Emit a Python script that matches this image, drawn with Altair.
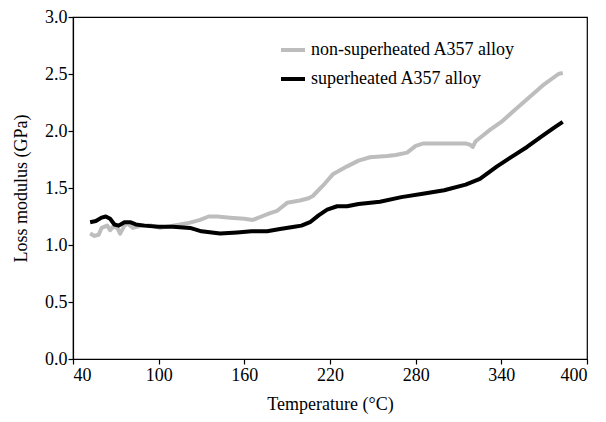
import altair as alt
import pandas as pd

series_names = ["non-superheated A357 alloy", "superheated A357 alloy"]
series_colors = ["#bdbdbd", "#000000"]

temp_non = [52, 55, 58, 60, 64, 66, 68, 71, 73, 76, 78, 82, 88, 95, 101, 110, 120, 129, 135,
            141, 150, 160, 166, 172, 178, 183, 190, 199, 205, 208, 215, 222, 232, 240, 248,
            260, 266, 274, 280, 285, 295, 305, 315, 318, 320, 322, 326, 332, 340, 350, 360,
            370, 380, 383]
val_non = [1.10, 1.08, 1.09, 1.15, 1.17, 1.13, 1.16, 1.15, 1.10, 1.17, 1.19, 1.15, 1.17, 1.17,
           1.15, 1.17, 1.19, 1.22, 1.25, 1.25, 1.24, 1.23, 1.22, 1.25, 1.28, 1.30, 1.37, 1.39,
           1.41, 1.43, 1.52, 1.62, 1.69, 1.74, 1.77, 1.78, 1.79, 1.81, 1.87, 1.89, 1.89, 1.89,
           1.89, 1.88, 1.86, 1.91, 1.95, 2.01, 2.08, 2.19, 2.30, 2.41, 2.50, 2.51]

temp_sup = [52, 56, 60, 63, 66, 69, 72, 76, 80, 84, 90, 100, 110, 122, 130, 143, 155, 165, 176,
            185, 195, 200, 206, 212, 218, 225, 232, 240, 255, 270, 285, 300, 315, 325, 337,
            348, 358, 368, 377, 383]
val_sup = [1.20, 1.21, 1.24, 1.25, 1.23, 1.18, 1.17, 1.20, 1.20, 1.18, 1.17, 1.16, 1.16, 1.15,
           1.12, 1.10, 1.11, 1.12, 1.12, 1.14, 1.16, 1.17, 1.20, 1.26, 1.31, 1.34, 1.34, 1.36,
           1.38, 1.42, 1.45, 1.48, 1.53, 1.58, 1.69, 1.78, 1.86, 1.95, 2.03, 2.08]

x_ticks = [40, 100, 160, 220, 280, 340, 400]
y_ticks = [0.0, 0.5, 1.0, 1.5, 2.0, 2.5, 3.0]

rows = []
for i, (t, v) in enumerate(zip(temp_non, val_non)):
    rows.append({"T": t, "v": v, "series": series_names[0], "idx": i})
for i, (t, v) in enumerate(zip(temp_sup, val_sup)):
    rows.append({"T": t, "v": v, "series": series_names[1], "idx": i})
df = pd.DataFrame(rows)

FONT = "Liberation Serif"

chart = alt.Chart(df).mark_line(strokeWidth=4, strokeJoin="round", strokeCap="butt").encode(
    x=alt.X("T:Q", scale=alt.Scale(domain=[40, 400], nice=False, zero=False),
            axis=alt.Axis(values=x_ticks, title="Temperature (°C)", grid=False)),
    y=alt.Y("v:Q", scale=alt.Scale(domain=[0, 3], nice=False),
            axis=alt.Axis(values=y_ticks, format=".1f", title="Loss modulus (GPa)", grid=False)),
    color=alt.Color("series:N",
                    scale=alt.Scale(domain=series_names, range=series_colors),
                    legend=alt.Legend(orient="none", legendX=206, legendY=19, title=None,
                                      symbolType="stroke", symbolSize=576, symbolStrokeWidth=4,
                                      labelFontSize=18, labelFont=FONT, labelColor="black",
                                      labelLimit=400,
                                      rowPadding=6, labelOffset=4, padding=0)),
    order=alt.Order("idx:Q"),
).properties(
    width=514, height=342, autosize="none",
    padding={"left": 65, "top": 9, "right": 4, "bottom": 56},
).configure_view(
    stroke="black", strokeWidth=1.2
).configure_axis(
    labelFont=FONT, titleFont=FONT, labelFontSize=18, titleFontSize=18,
    labelColor="black", titleColor="black", titleFontWeight="normal",
    domainColor="black", tickColor="black", tickSize=5, domainWidth=1.2, tickWidth=1.2,
).configure_axisX(titlePadding=11, labelPadding=2).configure_axisY(titlePadding=14, labelPadding=1)

chart.save("out.html", embed_options={"renderer": "svg", "actions": False})
